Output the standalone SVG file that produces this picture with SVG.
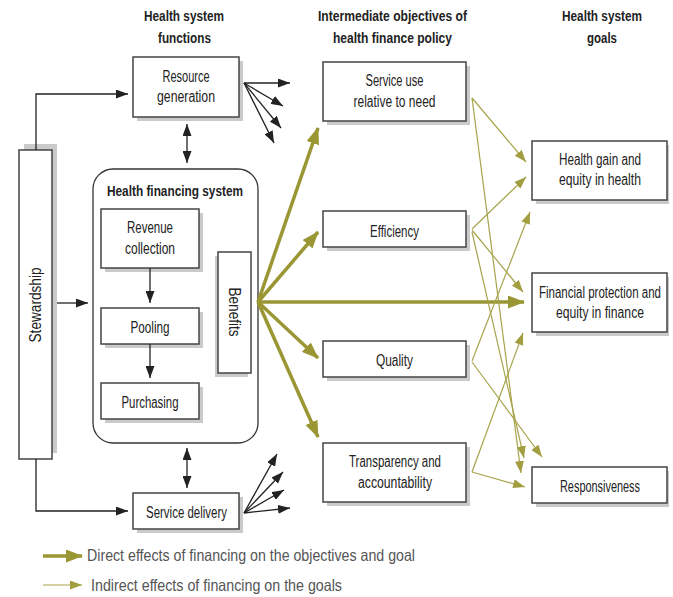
<svg xmlns="http://www.w3.org/2000/svg" width="673" height="597" viewBox="0 0 673 597">
<defs>
<style>
.box{fill:#fff;stroke:#444;stroke-width:1.5}
.sh{fill:#cacaca}
.t{font-family:"Liberation Sans",Arial,sans-serif;font-size:16px;fill:#222;text-anchor:middle}
.h{font-weight:bold;font-size:15.5px}
.e{text-anchor:end}
.leg{font-family:"Liberation Sans",Arial,sans-serif;font-size:16.5px;fill:#555;text-anchor:start}
.k{fill:none;stroke:#222;stroke-width:1.3}
.d{fill:none;stroke:#9a9634;stroke-width:3.5}
.i{fill:none;stroke:#a7a34b;stroke-width:1.2}
</style>
<marker id="ak" markerUnits="userSpaceOnUse" markerWidth="12" markerHeight="9" refX="12" refY="4.5" orient="auto-start-reverse"><path d="M0,0 L12,4.5 L0,9 z" fill="#222"/></marker>
<marker id="ad" markerUnits="userSpaceOnUse" markerWidth="17" markerHeight="13" refX="16" refY="6.5" orient="auto"><path d="M0,0 L17,6.5 L0,13 z" fill="#9a9634"/></marker>
<marker id="ai" markerUnits="userSpaceOnUse" markerWidth="12" markerHeight="9" refX="12" refY="4.5" orient="auto"><path d="M0,0 L12,4.5 L0,9 z" fill="#a29e40"/></marker>
</defs>
<rect width="673" height="597" fill="#fff"/>

<g id="headers">
<text class="t h" x="184" y="21" textLength="80" lengthAdjust="spacingAndGlyphs">Health system</text>
<text class="t h" x="184.5" y="43" textLength="53" lengthAdjust="spacingAndGlyphs">functions</text>
<text class="t h" x="392.5" y="21" textLength="149" lengthAdjust="spacingAndGlyphs">Intermediate objectives of</text>
<text class="t h" x="392.5" y="43" textLength="119" lengthAdjust="spacingAndGlyphs">health finance policy</text>
<text class="t h e" x="642" y="21" textLength="80" lengthAdjust="spacingAndGlyphs">Health system</text>
<text class="t h e" x="617" y="43" textLength="30" lengthAdjust="spacingAndGlyphs">goals</text>
</g>

<g id="stewardship">
<rect class="sh" x="24" y="144" width="33" height="309"/>
<rect class="box" x="19" y="150" width="33" height="309"/>
<text class="t" transform="translate(41,305) rotate(-90)" textLength="75" lengthAdjust="spacingAndGlyphs">Stewardship</text>
</g>

<g id="resource-generation">
<rect class="sh" x="137" y="61" width="106" height="60"/>
<rect class="box" x="133" y="57" width="106" height="60"/>
<text class="t" x="186" y="82" textLength="47" lengthAdjust="spacingAndGlyphs">Resource</text>
<text class="t" x="186" y="102" textLength="58" lengthAdjust="spacingAndGlyphs">generation</text>
</g>

<g id="health-financing-system">
<rect x="93" y="169" width="165" height="274" rx="20" fill="#fff" stroke="#333" stroke-width="1.3"/>
<text class="t h" x="175" y="196" textLength="136" lengthAdjust="spacingAndGlyphs">Health financing system</text>
</g>

<g id="revenue-collection">
<rect class="sh" x="105" y="213" width="98" height="59"/>
<rect class="box" x="101" y="209" width="98" height="59"/>
<text class="t" x="150" y="233" textLength="46" lengthAdjust="spacingAndGlyphs">Revenue</text>
<text class="t" x="150" y="254" textLength="50" lengthAdjust="spacingAndGlyphs">collection</text>
</g>

<g id="pooling">
<rect class="sh" x="105" y="312" width="98" height="36"/>
<rect class="box" x="101" y="308" width="98" height="36"/>
<text class="t" x="150" y="333" textLength="39" lengthAdjust="spacingAndGlyphs">Pooling</text>
</g>

<g id="purchasing">
<rect class="sh" x="105" y="387" width="98" height="36"/>
<rect class="box" x="101" y="383" width="98" height="36"/>
<text class="t" x="150" y="408" textLength="57" lengthAdjust="spacingAndGlyphs">Purchasing</text>
</g>

<g id="benefits">
<rect class="sh" x="215" y="256" width="33" height="121"/>
<rect class="box" x="218" y="252" width="33" height="121"/>
<text class="t" transform="translate(229,312) rotate(90)" textLength="49" lengthAdjust="spacingAndGlyphs">Benefits</text>
</g>

<g id="service-delivery">
<rect class="sh" x="137" y="497" width="106" height="36"/>
<rect class="box" x="133" y="493" width="106" height="36"/>
<text class="t" x="186.5" y="518" textLength="81" lengthAdjust="spacingAndGlyphs">Service delivery</text>
</g>

<g id="service-use">
<rect class="sh" x="327" y="66" width="143" height="59"/>
<rect class="box" x="323" y="62" width="143" height="59"/>
<text class="t" x="394.5" y="86" textLength="58" lengthAdjust="spacingAndGlyphs">Service use</text>
<text class="t" x="394.5" y="107" textLength="82" lengthAdjust="spacingAndGlyphs">relative to need</text>
</g>

<g id="efficiency">
<rect class="sh" x="327" y="215" width="143" height="36"/>
<rect class="box" x="323" y="211" width="143" height="36"/>
<text class="t" x="394.5" y="237" textLength="49" lengthAdjust="spacingAndGlyphs">Efficiency</text>
</g>

<g id="quality">
<rect class="sh" x="327" y="345" width="143" height="36"/>
<rect class="box" x="323" y="341" width="143" height="36"/>
<text class="t" x="394.5" y="366" textLength="37" lengthAdjust="spacingAndGlyphs">Quality</text>
</g>

<g id="transparency">
<rect class="sh" x="327" y="447" width="143" height="59"/>
<rect class="box" x="323" y="443" width="143" height="59"/>
<text class="t" x="395" y="467" textLength="92" lengthAdjust="spacingAndGlyphs">Transparency and</text>
<text class="t" x="395" y="488" textLength="74" lengthAdjust="spacingAndGlyphs">accountability</text>
</g>

<g id="health-gain">
<rect class="sh" x="536" y="145" width="133" height="59"/>
<rect class="box" x="532" y="141" width="135" height="59"/>
<text class="t e" x="641" y="165" textLength="82" lengthAdjust="spacingAndGlyphs">Health gain and</text>
<text class="t e" x="641" y="185" textLength="82" lengthAdjust="spacingAndGlyphs">equity in health</text>
</g>

<g id="financial-protection">
<rect class="sh" x="536" y="277" width="133" height="59"/>
<rect class="box" x="532" y="273" width="135" height="59"/>
<text class="t e" x="661" y="298" textLength="122" lengthAdjust="spacingAndGlyphs">Financial protection and</text>
<text class="t e" x="644" y="318" textLength="88" lengthAdjust="spacingAndGlyphs">equity in finance</text>
</g>

<g id="responsiveness">
<rect class="sh" x="536" y="471" width="133" height="36"/>
<rect class="box" x="532" y="467" width="135" height="36"/>
<text class="t e" x="640" y="492" textLength="80" lengthAdjust="spacingAndGlyphs">Responsiveness</text>
</g>

<g id="connectors">
<path class="k" d="M36,150 V94 H128" marker-end="url(#ak)"/>
<path class="k" d="M36,459 V511 H128" marker-end="url(#ak)"/>
<path class="k" d="M57,303 H88" marker-end="url(#ak)"/>
<path class="k" d="M187,124 V163" marker-start="url(#ak)" marker-end="url(#ak)"/>
<path class="k" d="M187,448 V488" marker-start="url(#ak)" marker-end="url(#ak)"/>
<path class="k" d="M150,268 V303" marker-end="url(#ak)"/>
<path class="k" d="M150,344 V378" marker-end="url(#ak)"/>
<path class="k" d="M244,83 L290,83" marker-end="url(#ak)"/>
<path class="k" d="M244,83 L283,106" marker-end="url(#ak)"/>
<path class="k" d="M244,83 L281,128" marker-end="url(#ak)"/>
<path class="k" d="M244,83 L274,143" marker-end="url(#ak)"/>
<path class="k" d="M244,513 L277,454" marker-end="url(#ak)"/>
<path class="k" d="M244,513 L283,472" marker-end="url(#ak)"/>
<path class="k" d="M244,513 L284,490" marker-end="url(#ak)"/>
<path class="k" d="M244,513 L290,508" marker-end="url(#ak)"/>

<path class="d" d="M258,302 L318,128" marker-end="url(#ad)"/>
<path class="d" d="M258,302 L318,232" marker-end="url(#ad)"/>
<path class="d" d="M258,302 L524,302" marker-end="url(#ad)"/>
<path class="d" d="M258,302 L318,358" marker-end="url(#ad)"/>
<path class="d" d="M258,302 L318,437" marker-end="url(#ad)"/>

<path class="i" d="M472,98 L526,162" marker-end="url(#ai)"/>
<path class="i" d="M472,98 L521,473" marker-end="url(#ai)"/>
<path class="i" d="M472,229 L526,177" marker-end="url(#ai)"/>
<path class="i" d="M472,230 L523,292" marker-end="url(#ai)"/>
<path class="i" d="M472,232 L524,458" marker-end="url(#ai)"/>
<path class="i" d="M472,361 L530,212" marker-end="url(#ai)"/>
<path class="i" d="M472,362 L542,457" marker-end="url(#ai)"/>
<path class="i" d="M472,472 L523,333" marker-end="url(#ai)"/>
<path class="i" d="M472,472 L525,487" marker-end="url(#ai)"/>
</g>

<g id="legend">
<path class="d" d="M43,556 H82" marker-end="url(#ad)"/>
<text class="leg" x="87" y="561" textLength="328" lengthAdjust="spacingAndGlyphs">Direct effects of financing on the objectives and goal</text>
<path class="i" stroke-width="1.6" d="M43,585 H82" marker-end="url(#ai)"/>
<text class="leg" x="91" y="591" textLength="251" lengthAdjust="spacingAndGlyphs">Indirect effects of financing on the goals</text>
</g>
</svg>
